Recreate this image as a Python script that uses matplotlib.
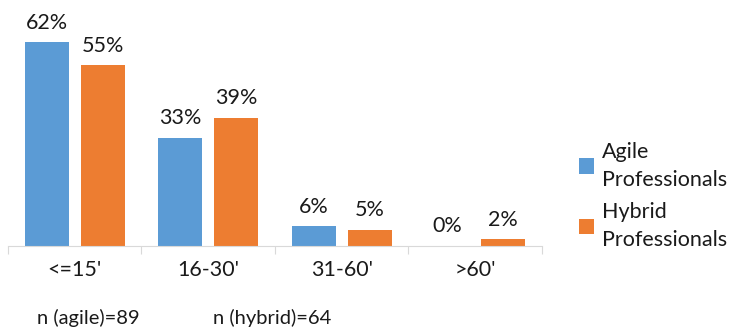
import matplotlib
matplotlib.use('Agg')
import matplotlib.pyplot as plt
import numpy as np

plt.rcParams['font.family'] = ['Lato', 'DejaVu Sans']

categories = ["<=15'", "16-30'", "31-60'", ">60'"]
agile = [62, 33, 6, 0]
hybrid = [55, 39, 5, 2]
series_names = ['Agile\nProfessionals', 'Hybrid\nProfessionals']
sample_notes = ['n (agile)=89', 'n (hybrid)=64']

BLUE = '#5B9BD5'
ORANGE = '#ED7D31'
TEXT = '#1a1a1a'

fig = plt.figure(figsize=(7.38, 3.33), dpi=100)
ax = fig.add_axes([0.0108, 0.2613, 0.7236, 0.69])

x = np.arange(len(categories))
w = 0.33
gap = 0.045
b1 = ax.bar(x - w / 2 - gap, agile, w, color=BLUE, label=series_names[0])
b2 = ax.bar(x + w / 2 + gap, hybrid, w, color=ORANGE, label=series_names[1])

for bars, vals in ((b1, agile), (b2, hybrid)):
    for rect, v in zip(bars, vals):
        ax.annotate('%d%%' % v, (rect.get_x() + rect.get_width() / 2, v),
                    xytext=(0, 7), textcoords='offset points',
                    ha='center', va='bottom', fontsize=15.5, color=TEXT)

ax.set_xlim(-0.5, len(categories) - 0.5)
ax.set_ylim(0, 70)
for s in ('top', 'right', 'left'):
    ax.spines[s].set_visible(False)
ax.spines['bottom'].set_color('#D9D9D9')
ax.set_yticks([])

# ticks sit between the categories, labels at the centres
ax.set_xticks(np.arange(len(categories) + 1) - 0.5)
ax.set_xticklabels([])
ax.tick_params(axis='x', which='major', length=6, color='#D9D9D9')
ax.set_xticks(x, minor=True)
ax.set_xticklabels(categories, minor=True, fontsize=15.5, color=TEXT)
ax.tick_params(axis='x', which='minor', length=0, pad=10)

fig.text(88 / 738, 1 - 318 / 333, sample_notes[0], ha='center', va='center',
         fontsize=14.5, color=TEXT)
fig.text(272 / 738, 1 - 318 / 333, sample_notes[1], ha='center', va='center',
         fontsize=14.5, color=TEXT)

leg = fig.legend(loc='center left', bbox_to_anchor=(560 / 738, 1 - 196 / 333),
                 frameon=False, fontsize=15.5, handlelength=0.7, handleheight=0.7,
                 handletextpad=0.35, labelspacing=0.6, labelcolor=TEXT)
for t in leg.get_texts():
    t.set_linespacing(1.5)

fig.savefig('out.png', dpi=100)
